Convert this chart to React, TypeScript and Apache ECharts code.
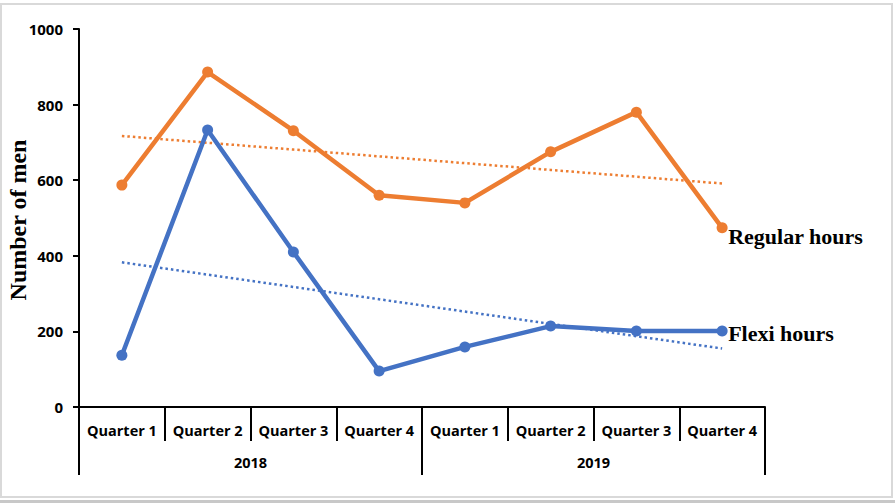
import React, { useEffect, useRef } from "react";
import * as echarts from "echarts";

const quarters = ["Quarter 1", "Quarter 2", "Quarter 3", "Quarter 4", "Quarter 1", "Quarter 2", "Quarter 3", "Quarter 4"];
const years = ["2018", "2019"];
const regularHours = [587, 886, 731, 560, 540, 675, 780, 474];
const flexiHours = [137, 733, 410, 95, 159, 214, 201, 201];
const yTicks = { min: 0, max: 1000, interval: 200 };

function trend(values: number[]): number[] {
  const n = values.length;
  const xs = values.map((_, i) => i + 1);
  const mx = xs.reduce((a, b) => a + b, 0) / n;
  const my = values.reduce((a, b) => a + b, 0) / n;
  let sxy = 0, sxx = 0;
  xs.forEach((x, i) => { sxy += (x - mx) * (values[i] - my); sxx += (x - mx) * (x - mx); });
  const slope = sxy / sxx;
  return xs.map((x) => my + slope * (x - mx));
}

const ORANGE = "#ED7D31";
const BLUE = "#4472C4";
const LABEL_FONT = "'Open Sans', 'Liberation Sans', sans-serif";
const SERIF = "'Liberation Serif', 'Times New Roman', serif";

export default function App() {
  const ref = useRef<HTMLDivElement>(null);
  useEffect(() => {
    if (!ref.current) return;
    const chart = echarts.init(ref.current, null, { renderer: "svg" });
    chart.setOption({
      animation: false,
      backgroundColor: "#ffffff",
      grid: { left: 79, right: 130, top: 29, bottom: 96, containLabel: false },
      xAxis: [
        {
          type: "category",
          data: quarters,
          position: "bottom",
          boundaryGap: true,
          axisLine: { show: true, lineStyle: { color: "#000", width: 2 } },
          axisTick: { show: true, interval: 0, length: 34, lineStyle: { color: "#000", width: 2 } },
          axisLabel: { interval: 0, margin: 16, color: "#000", fontFamily: LABEL_FONT, fontWeight: "bold", fontSize: 14.5 },
          splitLine: { show: false },
        },
        {
          type: "category",
          data: years,
          position: "bottom",
          boundaryGap: true,
          axisLine: { show: false },
          axisTick: { show: true, interval: 0, length: 68, lineStyle: { color: "#000", width: 2 } },
          axisLabel: { interval: 0, margin: 48, color: "#000", fontFamily: LABEL_FONT, fontWeight: "bold", fontSize: 14.5 },
          splitLine: { show: false },
        },
      ],
      yAxis: {
        type: "value",
        min: yTicks.min,
        max: yTicks.max,
        interval: yTicks.interval,
        axisLine: { show: true, lineStyle: { color: "#000", width: 2 } },
        axisTick: { show: true, length: 6, lineStyle: { color: "#000", width: 2 } },
        axisLabel: { margin: 16, color: "#000", fontFamily: LABEL_FONT, fontWeight: "bold", fontSize: 15, formatter: (v: number) => String(v) },
        splitLine: { show: false },
      },
      graphic: [
        { type: "rect", shape: { x: 1, y: 4, width: 891, height: 493 }, style: { fill: "none", stroke: "#d9d9d9", lineWidth: 2 }, silent: true },
        { type: "rect", shape: { x: 0, y: 500, width: 895, height: 3 }, style: { fill: "#c8c8c8" }, silent: true },
        {
          type: "text",
          x: 18,
          y: 220,
          rotation: Math.PI / 2,
          style: { text: "Number of men", fill: "#000", font: `bold 24px ${SERIF}`, align: "center", verticalAlign: "middle" },
        },
      ],
      series: [
        {
          name: "Regular hours trend",
          type: "line",
          data: trend(regularHours),
          symbol: "none",
          lineStyle: { color: ORANGE, width: 2.5, type: [2.5, 3] },
          z: 1,
        },
        {
          name: "Flexi hours trend",
          type: "line",
          data: trend(flexiHours),
          symbol: "none",
          lineStyle: { color: BLUE, width: 2.5, type: [2.5, 3] },
          z: 1,
        },
        {
          name: "Regular hours",
          type: "line",
          data: regularHours,
          symbol: "circle",
          symbolSize: 11,
          itemStyle: { color: ORANGE },
          lineStyle: { color: ORANGE, width: 4.5 },
          endLabel: { show: true, formatter: "{a}", distance: 6, offset: [0, 9], color: "#000", fontFamily: SERIF, fontWeight: "bold", fontSize: 22 },
          z: 3,
        },
        {
          name: "Flexi hours",
          type: "line",
          data: flexiHours,
          symbol: "circle",
          symbolSize: 11,
          itemStyle: { color: BLUE },
          lineStyle: { color: BLUE, width: 4.5 },
          endLabel: { show: true, formatter: "{a}", distance: 6, offset: [0, 2], color: "#000", fontFamily: SERIF, fontWeight: "bold", fontSize: 22 },
          z: 2,
        },
      ],
    });
    return () => chart.dispose();
  }, []);
  return <div ref={ref} style={{ position: "fixed", left: 0, top: 0, width: 895, height: 503 }} />;
}
